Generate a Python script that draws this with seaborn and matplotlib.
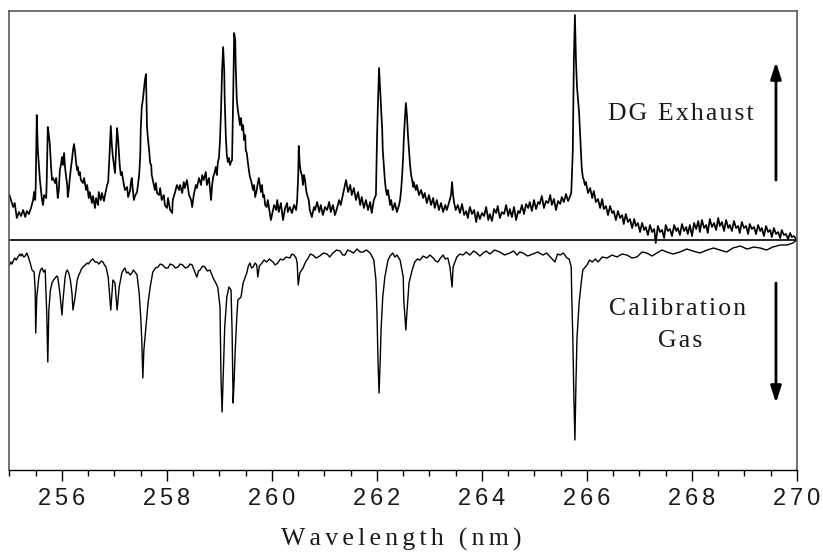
import matplotlib
matplotlib.use("Agg")
import matplotlib.pyplot as plt
from matplotlib.ticker import MultipleLocator, FuncFormatter
import pandas as pd
import seaborn as sns

# Emission spectrum of the diesel-generator exhaust (wavelength nm, intensity a.u.)
exhaust_spectrum = [
    (255.00, 45), (255.03, 40), (255.07, 33), (255.10, 37), (255.14, 22), (255.18, 28), (255.22, 24),
    (255.26, 30), (255.30, 23), (255.33, 29), (255.37, 26), (255.41, 32), (255.45, 40), (255.47, 48),
    (255.49, 40), (255.50, 55), (255.52, 125), (255.54, 90), (255.56, 75), (255.58, 60), (255.62, 40),
    (255.64, 35), (255.66, 45), (255.70, 42), (255.71, 60), (255.73, 113), (255.75, 105), (255.77, 95),
    (255.79, 75), (255.81, 60), (255.83, 62), (255.87, 57), (255.89, 62), (255.92, 42), (255.94, 50),
    (255.96, 70), (255.98, 75), (256.00, 83), (256.02, 75), (256.04, 87), (256.06, 72), (256.08, 63),
    (256.10, 55), (256.11, 43), (256.13, 50), (256.15, 62), (256.17, 72), (256.19, 80), (256.21, 90),
    (256.23, 96), (256.25, 88), (256.27, 77), (256.29, 70), (256.30, 73), (256.32, 65), (256.34, 68),
    (256.36, 60), (256.40, 57), (256.42, 62), (256.46, 50), (256.48, 55), (256.51, 42), (256.53, 48),
    (256.57, 37), (256.59, 44), (256.63, 32), (256.65, 42), (256.69, 35), (256.70, 48), (256.74, 40),
    (256.76, 47), (256.80, 39), (256.82, 45), (256.86, 55), (256.88, 58), (256.91, 90), (256.93, 114),
    (256.95, 95), (256.97, 83), (256.99, 75), (257.01, 67), (257.03, 90), (257.05, 112), (257.07, 100),
    (257.09, 83), (257.10, 75), (257.12, 65), (257.14, 68), (257.18, 55), (257.20, 50), (257.24, 53),
    (257.26, 43), (257.30, 50), (257.31, 57), (257.33, 62), (257.35, 50), (257.37, 40), (257.39, 44),
    (257.43, 48), (257.47, 65), (257.49, 83), (257.50, 110), (257.52, 133), (257.54, 140), (257.56, 150),
    (257.58, 160), (257.60, 166), (257.62, 113), (257.64, 100), (257.66, 90), (257.68, 77), (257.70, 75),
    (257.71, 65), (257.73, 60), (257.77, 50), (257.79, 57), (257.81, 47), (257.85, 45), (257.87, 52),
    (257.90, 40), (257.94, 45), (257.96, 35), (258.00, 32), (258.02, 42), (258.06, 30), (258.10, 27),
    (258.11, 40), (258.15, 47), (258.19, 55), (258.23, 50), (258.25, 55), (258.29, 47), (258.32, 58),
    (258.34, 52), (258.38, 60), (258.42, 45), (258.46, 40), (258.48, 33), (258.51, 45), (258.55, 55),
    (258.57, 52), (258.61, 62), (258.65, 55), (258.67, 65), (258.70, 60), (258.74, 68), (258.76, 55),
    (258.80, 62), (258.84, 40), (258.86, 55), (258.88, 63), (258.91, 68), (258.93, 73), (258.95, 65),
    (258.97, 78), (258.99, 82), (259.01, 100), (259.03, 130), (259.05, 170), (259.07, 193), (259.09, 170),
    (259.10, 140), (259.12, 105), (259.14, 85), (259.16, 78), (259.18, 82), (259.20, 75), (259.22, 78),
    (259.24, 80), (259.26, 140), (259.28, 207), (259.30, 200), (259.31, 173), (259.33, 140), (259.35, 130),
    (259.37, 123), (259.39, 115), (259.41, 122), (259.43, 110), (259.45, 115), (259.47, 100), (259.49, 105),
    (259.50, 90), (259.52, 87), (259.54, 78), (259.56, 70), (259.58, 63), (259.60, 60), (259.64, 50),
    (259.66, 55), (259.68, 43), (259.71, 50), (259.73, 57), (259.75, 62), (259.77, 55), (259.79, 48),
    (259.81, 55), (259.83, 43), (259.85, 45), (259.87, 35), (259.90, 33), (259.92, 40), (259.96, 27),
    (259.98, 20), (260.00, 25), (260.04, 35), (260.08, 30), (260.10, 40), (260.13, 28), (260.17, 37),
    (260.21, 20), (260.25, 32), (260.29, 37), (260.30, 28), (260.34, 33), (260.38, 27), (260.42, 35),
    (260.46, 30), (260.48, 40), (260.50, 65), (260.51, 94), (260.53, 75), (260.55, 68), (260.57, 65),
    (260.59, 55), (260.61, 65), (260.63, 60), (260.65, 50), (260.67, 45), (260.70, 40), (260.72, 30),
    (260.76, 23), (260.80, 33), (260.82, 30), (260.86, 38), (260.90, 28), (260.93, 35), (260.97, 25),
    (261.01, 33), (261.05, 30), (261.09, 38), (261.12, 28), (261.16, 35), (261.20, 25), (261.24, 32),
    (261.28, 40), (261.31, 35), (261.35, 45), (261.39, 55), (261.41, 60), (261.45, 48), (261.49, 55),
    (261.52, 45), (261.56, 52), (261.60, 40), (261.64, 48), (261.68, 35), (261.71, 43), (261.75, 32),
    (261.79, 40), (261.83, 30), (261.87, 38), (261.90, 27), (261.94, 40), (261.98, 45), (262.00, 100),
    (262.02, 140), (262.04, 172), (262.06, 150), (262.08, 130), (262.10, 110), (262.11, 90), (262.13, 75),
    (262.15, 60), (262.17, 50), (262.19, 45), (262.21, 50), (262.25, 35), (262.27, 40), (262.30, 30),
    (262.34, 37), (262.38, 28), (262.42, 35), (262.44, 40), (262.46, 50), (262.48, 65), (262.50, 85),
    (262.51, 100), (262.53, 120), (262.55, 137), (262.57, 125), (262.59, 105), (262.61, 90), (262.63, 75),
    (262.65, 65), (262.67, 60), (262.69, 53), (262.70, 58), (262.74, 50), (262.76, 55), (262.80, 45),
    (262.84, 50), (262.88, 42), (262.91, 47), (262.95, 37), (262.99, 45), (263.03, 35), (263.07, 42),
    (263.10, 32), (263.14, 40), (263.18, 30), (263.22, 37), (263.26, 28), (263.30, 35), (263.33, 30),
    (263.37, 37), (263.41, 45), (263.43, 58), (263.45, 45), (263.47, 37), (263.50, 30), (263.54, 35),
    (263.58, 27), (263.62, 36), (263.66, 25), (263.70, 29), (263.73, 22), (263.77, 33), (263.81, 26),
    (263.85, 30), (263.89, 18), (263.92, 28), (263.96, 21), (264.00, 27), (264.04, 24), (264.08, 33),
    (264.12, 20), (264.15, 26), (264.19, 19), (264.23, 31), (264.27, 27), (264.30, 34), (264.34, 22),
    (264.38, 28), (264.42, 26), (264.46, 35), (264.50, 24), (264.53, 31), (264.57, 23), (264.61, 33),
    (264.65, 20), (264.69, 29), (264.72, 27), (264.76, 35), (264.80, 26), (264.84, 36), (264.88, 32),
    (264.91, 38), (264.95, 29), (264.99, 40), (265.03, 31), (265.07, 38), (265.10, 36), (265.14, 44),
    (265.18, 32), (265.22, 39), (265.26, 37), (265.30, 45), (265.33, 35), (265.37, 41), (265.41, 30),
    (265.45, 39), (265.49, 36), (265.52, 43), (265.56, 38), (265.60, 46), (265.64, 39), (265.68, 44),
    (265.70, 47), (265.71, 60), (265.73, 90), (265.75, 180), (265.77, 225), (265.79, 180), (265.81, 153),
    (265.83, 140), (265.85, 127), (265.87, 105), (265.89, 83), (265.90, 72), (265.92, 63), (265.94, 60),
    (265.96, 55), (265.98, 58), (266.02, 47), (266.06, 52), (266.10, 42), (266.13, 49), (266.17, 38),
    (266.21, 41), (266.25, 32), (266.29, 41), (266.32, 31), (266.36, 34), (266.40, 25), (266.44, 34),
    (266.48, 27), (266.51, 29), (266.55, 20), (266.59, 29), (266.63, 22), (266.67, 25), (266.70, 16),
    (266.74, 26), (266.78, 18), (266.82, 21), (266.86, 12), (266.90, 21), (266.93, 14), (266.97, 17),
    (267.01, 8), (267.05, 17), (267.09, 10), (267.12, 13), (267.16, 5), (267.20, 15), (267.24, 8),
    (267.28, 11), (267.31, -3), (267.35, 14), (267.39, 8), (267.43, 10), (267.47, 2), (267.50, 15),
    (267.54, 9), (267.58, 11), (267.62, 4), (267.66, 15), (267.70, 9), (267.73, 12), (267.77, 5),
    (267.81, 16), (267.85, 9), (267.89, 13), (267.92, 6), (267.96, 15), (268.00, 4), (268.04, 17),
    (268.08, 11), (268.12, 19), (268.15, 8), (268.19, 20), (268.23, 12), (268.27, 15), (268.30, 7),
    (268.34, 21), (268.38, 13), (268.42, 17), (268.46, 10), (268.50, 22), (268.53, 14), (268.57, 18),
    (268.61, 9), (268.65, 20), (268.69, 12), (268.72, 15), (268.76, 9), (268.80, 19), (268.84, 12),
    (268.88, 14), (268.91, 7), (268.95, 18), (268.99, 12), (269.03, 14), (269.07, 6), (269.10, 16),
    (269.14, 11), (269.18, 13), (269.22, 6), (269.26, 15), (269.30, 9), (269.33, 12), (269.37, 4),
    (269.41, 14), (269.45, 8), (269.49, 10), (269.52, 3), (269.56, 12), (269.60, 6), (269.64, 8),
    (269.68, 2), (269.71, 10), (269.75, 5), (269.79, 6), (269.83, 1), (269.87, 7), (269.90, 3),
    (269.94, 4), (270.00, 0),
]

# Calibration gas spectrum, plotted inverted below the baseline
calibration_spectrum = [
    (255.00, -25), (255.03, -22), (255.05, -24), (255.07, -21), (255.10, -18), (255.13, -20), (255.16, -17),
    (255.20, -14), (255.22, -16), (255.24, -14), (255.27, -17), (255.30, -16), (255.33, -13), (255.36, -17),
    (255.39, -22), (255.43, -30), (255.47, -32), (255.49, -50), (255.50, -93), (255.52, -57), (255.56, -37),
    (255.59, -30), (255.62, -28), (255.65, -32), (255.68, -30), (255.71, -73), (255.73, -122), (255.75, -70),
    (255.78, -50), (255.81, -43), (255.84, -40), (255.87, -38), (255.90, -36), (255.92, -37), (255.96, -53),
    (256.00, -75), (256.02, -60), (256.06, -37), (256.08, -32), (256.10, -30), (256.13, -33), (256.16, -40),
    (256.19, -53), (256.21, -70), (256.25, -57), (256.29, -40), (256.32, -35), (256.34, -33), (256.37, -29),
    (256.40, -27), (256.44, -25), (256.48, -23), (256.50, -24), (256.53, -22), (256.56, -20), (256.59, -19),
    (256.63, -22), (256.67, -22), (256.70, -24), (256.72, -23), (256.75, -21), (256.78, -22), (256.81, -25),
    (256.84, -27), (256.88, -37), (256.93, -70), (256.97, -40), (257.01, -43), (257.05, -70), (257.09, -47),
    (257.14, -33), (257.17, -30), (257.20, -28), (257.23, -33), (257.26, -32), (257.30, -35), (257.33, -33),
    (257.36, -30), (257.39, -32), (257.43, -35), (257.47, -53), (257.50, -77), (257.52, -100), (257.54, -138),
    (257.56, -110), (257.60, -87), (257.64, -63), (257.68, -47), (257.73, -32), (257.78, -28), (257.83, -27),
    (257.87, -24), (257.92, -25), (257.97, -28), (258.02, -28), (258.06, -24), (258.11, -25), (258.16, -28),
    (258.21, -27), (258.25, -24), (258.30, -25), (258.35, -28), (258.40, -27), (258.44, -24), (258.48, -25),
    (258.53, -32), (258.57, -37), (258.60, -31), (258.63, -30), (258.68, -26), (258.72, -27), (258.77, -31),
    (258.82, -30), (258.85, -34), (258.88, -38), (258.95, -45), (258.97, -48), (259.01, -67), (259.03, -140),
    (259.05, -172), (259.07, -137), (259.10, -87), (259.14, -57), (259.18, -47), (259.22, -50), (259.24, -90),
    (259.26, -163), (259.28, -140), (259.30, -110), (259.33, -77), (259.35, -60), (259.41, -57), (259.45, -43),
    (259.52, -33), (259.55, -26), (259.58, -23), (259.61, -28), (259.64, -27), (259.68, -23), (259.71, -25),
    (259.73, -37), (259.76, -26), (259.81, -23), (259.85, -20), (259.90, -22), (259.95, -19), (260.02, -22),
    (260.06, -25), (260.11, -23), (260.16, -19), (260.21, -20), (260.27, -17), (260.34, -18), (260.38, -14),
    (260.42, -15), (260.46, -18), (260.48, -23), (260.50, -45), (260.53, -33), (260.59, -28), (260.64, -22),
    (260.69, -18), (260.73, -14), (260.78, -15), (260.84, -18), (260.91, -16), (260.98, -13), (261.05, -14),
    (261.10, -17), (261.16, -13), (261.23, -10), (261.30, -11), (261.35, -15), (261.39, -15), (261.44, -10),
    (261.49, -11), (261.55, -13), (261.62, -9), (261.68, -12), (261.73, -12), (261.80, -10), (261.87, -13),
    (261.94, -20), (261.98, -40), (262.00, -73), (262.02, -122), (262.04, -153), (262.06, -123), (262.08, -87),
    (262.11, -57), (262.15, -37), (262.21, -20), (262.25, -16), (262.30, -13), (262.34, -17), (262.38, -15),
    (262.44, -20), (262.50, -37), (262.51, -60), (262.55, -90), (262.57, -73), (262.61, -43), (262.67, -30),
    (262.72, -22), (262.77, -19), (262.82, -20), (262.88, -16), (262.95, -18), (263.01, -15), (263.07, -18),
    (263.12, -21), (263.16, -22), (263.21, -18), (263.26, -15), (263.30, -19), (263.35, -18), (263.39, -27),
    (263.43, -47), (263.45, -27), (263.52, -17), (263.58, -14), (263.64, -15), (263.70, -12), (263.77, -15),
    (263.84, -11), (263.90, -13), (263.96, -16), (264.02, -13), (264.08, -11), (264.15, -14), (264.24, -10),
    (264.34, -12), (264.43, -15), (264.53, -13), (264.60, -11), (264.67, -15), (264.72, -12), (264.78, -13),
    (264.87, -16), (264.97, -14), (265.06, -12), (265.16, -15), (265.23, -13), (265.30, -17), (265.39, -22),
    (265.44, -14), (265.49, -15), (265.55, -13), (265.62, -18), (265.66, -19), (265.70, -27), (265.71, -57),
    (265.73, -97), (265.75, -157), (265.77, -200), (265.79, -143), (265.81, -97), (265.85, -63), (265.89, -43),
    (265.92, -30), (266.00, -25), (266.05, -20), (266.10, -22), (266.16, -19), (266.21, -22), (266.29, -17),
    (266.38, -18), (266.48, -15), (266.57, -17), (266.67, -14), (266.76, -15), (266.86, -18), (266.95, -17),
    (267.05, -12), (267.14, -13), (267.24, -16), (267.33, -13), (267.43, -10), (267.52, -12), (267.64, -14),
    (267.77, -12), (267.90, -9), (268.02, -11), (268.15, -13), (268.29, -10), (268.41, -8), (268.53, -10),
    (268.66, -12), (268.78, -8), (268.92, -6), (269.05, -9), (269.18, -7), (269.30, -8), (269.42, -10),
    (269.54, -7), (269.68, -5), (269.81, -5), (269.92, -3), (270.00, 0),
]

wavelength_limits = (255, 270)
intensity_limits = (-230, 229)
major_ticks = [256, 258, 260, 262, 264, 266, 268, 270]
minor_step = 0.5
x_label = "Wavelength (nm)"
exhaust_label = "DG Exhaust"
calibration_label = ["Calibration", "Gas"]

HAIR = "\u200a"
SIXTH = "\u2006"


def spaced(text, gap):
    return gap.join(text)


sns.set_theme(style="white")
plt.rcParams["font.family"] = ["Liberation Sans", "DejaVu Sans"]
serif = ["Liberation Serif", "DejaVu Serif"]
ink = "#1a1a1a"

exhaust_df = pd.DataFrame(exhaust_spectrum, columns=["wavelength", "intensity"])
calib_df = pd.DataFrame(calibration_spectrum, columns=["wavelength", "intensity"])

fig = plt.figure(figsize=(8.23, 5.54), dpi=100)
ax = fig.add_axes([0.0115, 0.1516, 0.9569, 0.8285])

sns.lineplot(data=exhaust_df, x="wavelength", y="intensity", ax=ax, color="black",
             linewidth=1.25, estimator=None, sort=False, legend=False)
sns.lineplot(data=calib_df, x="wavelength", y="intensity", ax=ax, color="black",
             linewidth=1.0, estimator=None, sort=False, legend=False)
ax.axhline(0, color="black", linewidth=1.2, zorder=1)

ax.set_xlim(*wavelength_limits)
ax.set_ylim(*intensity_limits)
ax.set_yticks([])
ax.set_xticks(major_ticks)
ax.xaxis.set_minor_locator(MultipleLocator(minor_step))
ax.xaxis.set_major_formatter(FuncFormatter(lambda v, _: spaced(f"{v:.0f}", SIXTH)))
ax.tick_params(axis="x", which="major", bottom=True, direction="out", length=8, width=1.0,
               color="black", labelsize=17, labelcolor=ink, pad=5)
ax.tick_params(axis="x", which="minor", bottom=True, direction="out", length=4, width=1.0,
               color="black")

for side in ("left", "top", "right"):
    ax.spines[side].set_color("#5a5a5a")
    ax.spines[side].set_linewidth(1.2)
ax.spines["bottom"].set_color("black")
ax.spines["bottom"].set_linewidth(1.0)

ax.set_xlabel(spaced(x_label, SIXTH), fontsize=18.5, family=serif, color=ink,
              verticalalignment="baseline")
ax.xaxis.set_label_coords(0.497, -0.1656)
ax.set_ylabel("")

ax.text(0.852, 0.7625, spaced(exhaust_label, HAIR), transform=ax.transAxes, ha="center",
        va="baseline", fontsize=18.5, family=serif, color=ink)
ax.text(0.848, 0.3377, spaced(calibration_label[0], HAIR), transform=ax.transAxes, ha="center",
        va="baseline", fontsize=18.5, family=serif, color=ink)
ax.text(0.851, 0.268, spaced(calibration_label[1], HAIR), transform=ax.transAxes, ha="center",
        va="baseline", fontsize=18.5, family=serif, color=ink)

arrow = dict(arrowstyle="-|>,head_length=0.5,head_width=0.16", color="black", lw=2.0,
             shrinkA=0, shrinkB=0, mutation_scale=20)
ax.annotate("", xy=(0.9733, 0.889), xytext=(0.9733, 0.6318), xycoords="axes fraction",
            textcoords="axes fraction", arrowprops=arrow)
ax.annotate("", xy=(0.9733, 0.146), xytext=(0.9733, 0.4074), xycoords="axes fraction",
            textcoords="axes fraction", arrowprops=arrow)

fig.savefig("out.png", dpi=100)
